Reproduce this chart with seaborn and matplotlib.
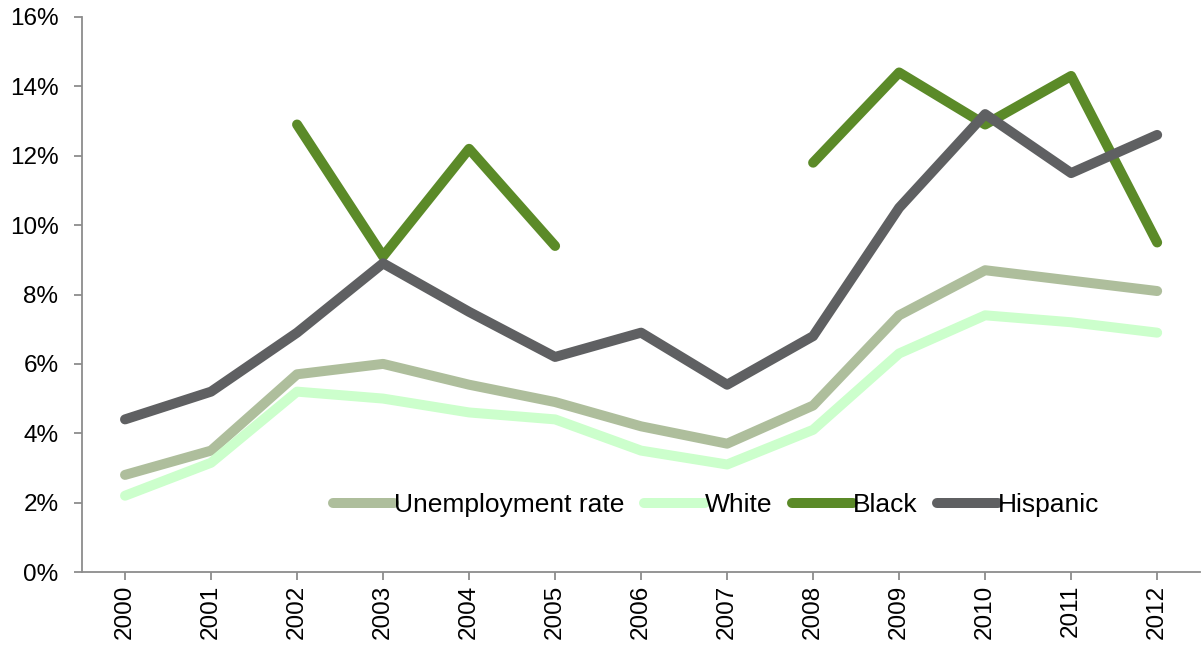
import numpy as np
import pandas as pd
import matplotlib
matplotlib.use("Agg")
import matplotlib.pyplot as plt
import seaborn as sns
from matplotlib.ticker import FuncFormatter

years = ["2000", "2001", "2002", "2003", "2004", "2005", "2006",
         "2007", "2008", "2009", "2010", "2011", "2012"]
unemployment = [2.8, 3.5, 5.7, 6.0, 5.4, 4.9, 4.2, 3.7, 4.8, 7.4, 8.7, 8.4, 8.1]
white = [2.2, 3.15, 5.2, 5.0, 4.6, 4.4, 3.5, 3.1, 4.1, 6.3, 7.4, 7.2, 6.9]
black = [np.nan, np.nan, 12.9, 9.1, 12.2, 9.4, np.nan, np.nan, 11.8, 14.4, 12.9, 14.3, 9.5]
hispanic = [4.4, 5.2, 6.9, 8.9, 7.5, 6.2, 6.9, 5.4, 6.8, 10.5, 13.2, 11.5, 12.6]

series_names = ["Unemployment rate", "White", "Black", "Hispanic"]
series_values = [unemployment, white, black, hispanic]
colors = ["#AEBE9C", "#CCFFCC", "#5B8A28", "#5F6062"]

sns.set_style("white")
plt.rcParams["font.family"] = ["Liberation Sans", "DejaVu Sans"]
plt.rcParams["text.color"] = "black"

fig = plt.figure(figsize=(12.01, 6.53), dpi=100)
ax = fig.add_axes([0.0683, 0.124, 0.931, 0.850])

pos = np.arange(len(years))
lw = 7.2
for name, vals, col in zip(series_names, series_values, colors):
    df = pd.DataFrame({"x": pos, "y": vals})
    notna = df["y"].notna()
    df["seg"] = (notna != notna.shift()).cumsum()
    df = df[notna]
    first = True
    for _, sub in df.groupby("seg"):
        sns.lineplot(data=sub, x="x", y="y", ax=ax, color=col, linewidth=lw,
                     label=name if first else None, legend=False,
                     solid_capstyle="round", solid_joinstyle="round")
        first = False

ax.set_xlim(-0.5, len(years) - 0.5)
ax.set_ylim(0, 16)
ax.set_yticks(np.arange(0, 17, 2))
ax.yaxis.set_major_formatter(FuncFormatter(lambda v, p: f"{int(v)}%"))
ax.set_xticks(pos)
ax.set_xticklabels(years, rotation=90)
ax.set_xlabel("")
ax.set_ylabel("")
for s in ["top", "right"]:
    ax.spines[s].set_visible(False)
for s in ["left", "bottom"]:
    ax.spines[s].set_color("#8C8C8C")
    ax.spines[s].set_linewidth(1.3)
ax.tick_params(axis="both", direction="out", length=6, width=1.3, color="#8C8C8C",
               labelsize=17.5, labelcolor="black", left=True, bottom=True)
ax.tick_params(axis="y", pad=11)
ax.tick_params(axis="x", pad=3)

handles, labels = ax.get_legend_handles_labels()
leg = ax.legend(handles, labels, loc="center", bbox_to_anchor=(0.567, 0.121),
                ncol=4, frameon=False, fontsize=19, handlelength=2.3,
                handletextpad=0.0, columnspacing=0.75)
for t in leg.get_texts():
    t.set_color("black")

fig.savefig("out.png", dpi=100)
